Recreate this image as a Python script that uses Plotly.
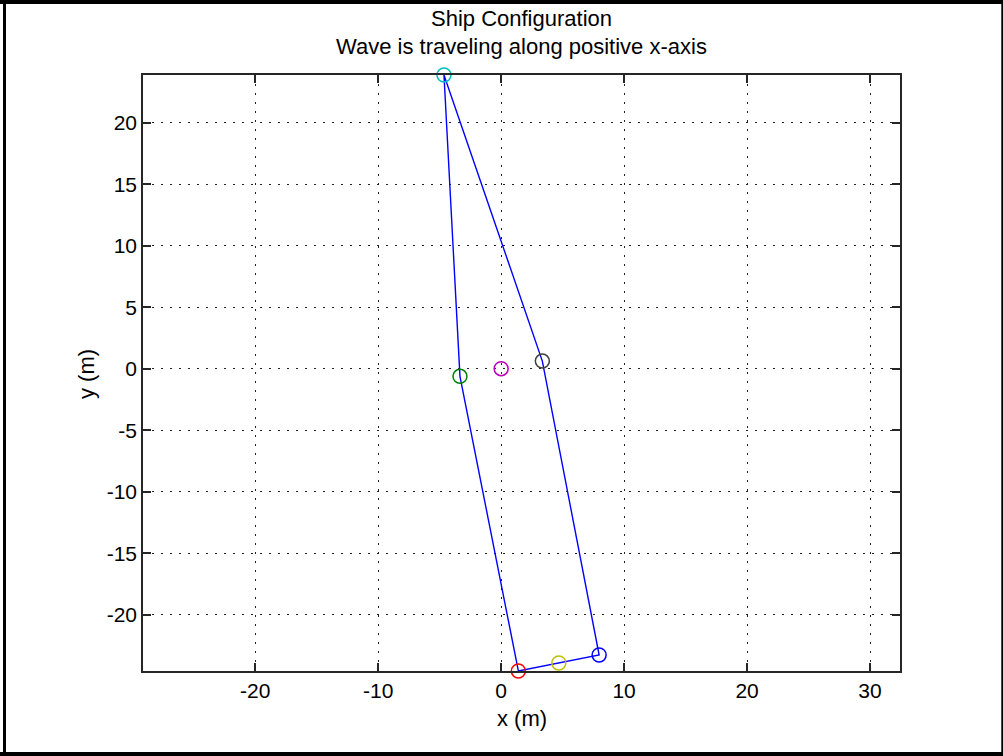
import plotly.graph_objects as go

# Ship outline points (m): bow, port midship, stern port, stern starboard, starboard midship
outline_x = [-4.65, -3.35, 1.40, 7.97, 3.35, -4.65]
outline_y = [23.88, -0.62, -24.58, -23.28, 0.62, 23.88]

# Reference points in plotting order
point_names = ["port midship", "starboard midship", "stern port", "bow", "centre", "stern centre", "starboard stern"]
point_x = [-3.35, 3.35, 1.40, -4.65, 0.0, 4.69, 7.97]
point_y = [-0.62, 0.62, -24.58, 23.88, 0.0, -23.93, -23.28]
# classic colour order: green, grey, red, cyan, magenta, yellow, blue
point_colors = ["rgb(0,128,0)", "rgb(64,64,64)", "rgb(255,0,0)", "rgb(0,191,191)",
                "rgb(191,0,191)", "rgb(191,191,0)", "rgb(0,0,255)"]

x_ticks = [-20, -10, 0, 10, 20, 30]
x_tick_labels = ["-20", "-10", "0", "10", "20", "30"]
y_ticks = [-20, -15, -10, -5, 0, 5, 10, 15, 20]
y_tick_labels = ["-20", "-15", "-10", "-5", "0", "5", "10", "15", "20"]
x_range = [-29.13, 32.44]
y_range = [-24.58, 23.88]

FONT = "Liberation Sans, Arial, Helvetica, sans-serif"

fig = go.Figure()
fig.add_trace(go.Scatter(x=outline_x, y=outline_y, mode="lines",
                         line=dict(color="rgb(0,0,255)", width=1.4),
                         showlegend=False, hoverinfo="skip", cliponaxis=False))
for name, px, py, c in zip(point_names, point_x, point_y, point_colors):
    fig.add_trace(go.Scatter(x=[px], y=[py], mode="markers", name=name,
                             marker=dict(symbol="circle-open", size=14, color=c,
                                         line=dict(width=1.5, color=c)),
                             showlegend=False, cliponaxis=False))

axis_common = dict(
    showgrid=True, gridcolor="#222222", gridwidth=1.3, griddash="1.5px,7.5px",
    zeroline=False, showline=True, linecolor="#262626", linewidth=1.6,
    mirror="ticks", ticks="inside", ticklen=8, tickwidth=1.6, tickcolor="#262626",
    tickfont=dict(family=FONT, size=21, color="black"),
)

fig.update_layout(
    width=1003, height=756,
    margin=dict(l=143, r=103, t=75, b=85),
    paper_bgcolor="white", plot_bgcolor="white",
    xaxis=dict(range=x_range, tickvals=x_ticks, ticktext=x_tick_labels, **axis_common),
    yaxis=dict(range=y_range, tickvals=y_ticks, ticktext=y_tick_labels, **axis_common),
    annotations=[
        dict(text="Ship Configuration", x=0.5, y=(671 - 19) / 596, xref="paper", yref="paper",
             showarrow=False, xanchor="center", yanchor="middle",
             font=dict(family=FONT, size=22, color="black")),
        dict(text="Wave is traveling along positive x-axis", x=0.5, y=(671 - 47) / 596,
             xref="paper", yref="paper", showarrow=False, xanchor="center", yanchor="middle",
             font=dict(family=FONT, size=22, color="black")),
        dict(text="x (m)", x=0.5, y=(671 - 719) / 596, xref="paper", yref="paper",
             showarrow=False, xanchor="center", yanchor="middle",
             font=dict(family=FONT, size=22, color="black")),
        dict(text="y (m)", x=(86 - 143) / 757, y=(671 - 374) / 596, xref="paper", yref="paper",
             showarrow=False, xanchor="center", yanchor="middle", textangle=-90,
             font=dict(family=FONT, size=22, color="black")),
    ],
    shapes=[
        # figure frame
        dict(type="line", xref="paper", yref="paper", x0=(4.5 - 143) / 757, x1=(4.5 - 143) / 757,
             y0=(671 - 0) / 596, y1=(671 - 756) / 596, line=dict(color="black", width=3)),
        dict(type="line", xref="paper", yref="paper", x0=(1002.3 - 143) / 757, x1=(1002.3 - 143) / 757,
             y0=(671 - 0) / 596, y1=(671 - 756) / 596, line=dict(color="black", width=2)),
        dict(type="line", xref="paper", yref="paper", x0=(0 - 143) / 757, x1=(1003 - 143) / 757,
             y0=(671 - 2) / 596, y1=(671 - 2) / 596, line=dict(color="black", width=4)),
        dict(type="line", xref="paper", yref="paper", x0=(0 - 143) / 757, x1=(1003 - 143) / 757,
             y0=(671 - 754) / 596, y1=(671 - 754) / 596, line=dict(color="black", width=4)),
    ],
)

fig.write_html("out.html")
